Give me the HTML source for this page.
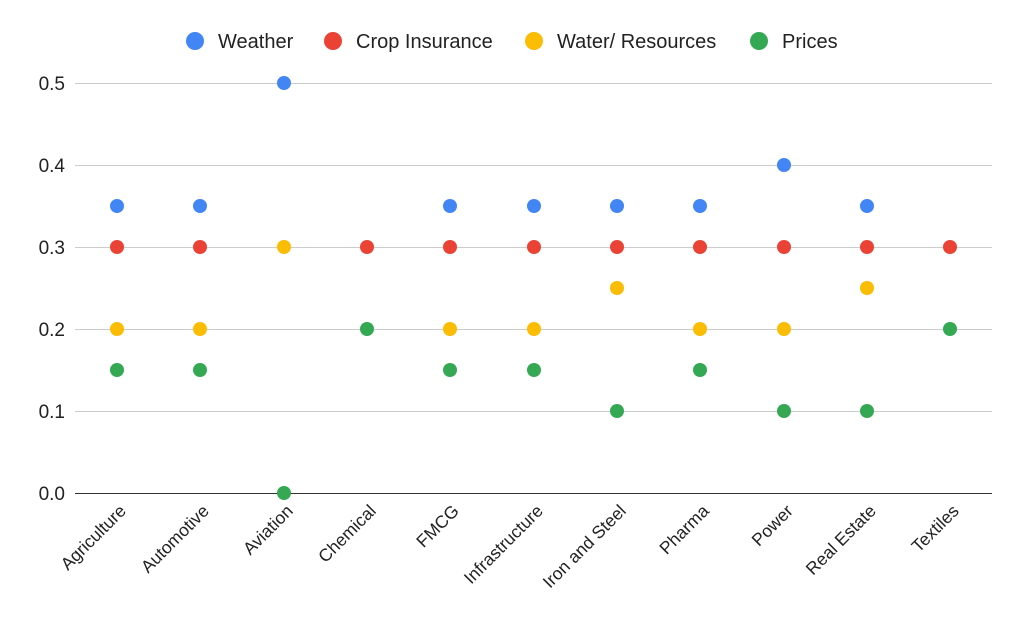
<!DOCTYPE html>
<html><head><meta charset="utf-8"><style>
html,body{margin:0;padding:0;background:#fff;}
svg{display:block;font-family:"Liberation Sans",Arial,sans-serif;}
</style></head><body>
<svg width="1024" height="633" viewBox="0 0 1024 633" xmlns="http://www.w3.org/2000/svg">
<rect width="1024" height="633" fill="#fff"/>
<g font-size="20" fill="#222">
<circle cx="195" cy="41" r="9" fill="#4285F4"/><text x="218" y="48">Weather</text>
<circle cx="333" cy="41" r="9" fill="#EA4335"/><text x="356" y="48">Crop Insurance</text>
<circle cx="534" cy="41" r="9" fill="#FBBC04"/><text x="557" y="48">Water/ Resources</text>
<circle cx="759" cy="41" r="9" fill="#34A853"/><text x="782" y="48">Prices</text>
</g>
<g stroke="#ccc" stroke-width="1">
<line x1="75" x2="992" y1="83.5" y2="83.5"/>
<line x1="75" x2="992" y1="165.5" y2="165.5"/>
<line x1="75" x2="992" y1="247.5" y2="247.5"/>
<line x1="75" x2="992" y1="329.5" y2="329.5"/>
<line x1="75" x2="992" y1="411.5" y2="411.5"/>
</g>
<line x1="75" x2="992" y1="493.5" y2="493.5" stroke="#333" stroke-width="1"/>
<g font-size="19" fill="#222" text-anchor="end">
<text x="65" y="90">0.5</text>
<text x="65" y="172">0.4</text>
<text x="65" y="254">0.3</text>
<text x="65" y="336">0.2</text>
<text x="65" y="418">0.1</text>
<text x="65" y="500">0.0</text>
</g>
<g font-size="17.5" fill="#222" text-anchor="end">
<text transform="translate(127,512) rotate(-45)">Agriculture</text>
<text transform="translate(210,512) rotate(-45)">Automotive</text>
<text transform="translate(294,512) rotate(-45)">Aviation</text>
<text transform="translate(377,512) rotate(-45)">Chemical</text>
<text transform="translate(460,512) rotate(-45)">FMCG</text>
<text transform="translate(544,512) rotate(-45)">Infrastructure</text>
<text transform="translate(627,512) rotate(-45)">Iron and Steel</text>
<text transform="translate(710,512) rotate(-45)">Pharma</text>
<text transform="translate(794,512) rotate(-45)">Power</text>
<text transform="translate(877,512) rotate(-45)">Real Estate</text>
<text transform="translate(960,512) rotate(-45)">Textiles</text>
</g>
<g fill="#4285F4">
<circle cx="117" cy="206" r="7"/><circle cx="200" cy="206" r="7"/><circle cx="284" cy="83" r="7"/>
<circle cx="450" cy="206" r="7"/><circle cx="534" cy="206" r="7"/><circle cx="617" cy="206" r="7"/>
<circle cx="700" cy="206" r="7"/><circle cx="784" cy="165" r="7"/><circle cx="867" cy="206" r="7"/>
</g>
<g fill="#EA4335">
<circle cx="117" cy="247" r="7"/><circle cx="200" cy="247" r="7"/><circle cx="367" cy="247" r="7"/>
<circle cx="450" cy="247" r="7"/><circle cx="534" cy="247" r="7"/><circle cx="617" cy="247" r="7"/>
<circle cx="700" cy="247" r="7"/><circle cx="784" cy="247" r="7"/><circle cx="867" cy="247" r="7"/>
<circle cx="950" cy="247" r="7"/>
</g>
<g fill="#FBBC04">
<circle cx="117" cy="329" r="7"/><circle cx="200" cy="329" r="7"/><circle cx="284" cy="247" r="7"/>
<circle cx="450" cy="329" r="7"/><circle cx="534" cy="329" r="7"/><circle cx="617" cy="288" r="7"/>
<circle cx="700" cy="329" r="7"/><circle cx="784" cy="329" r="7"/><circle cx="867" cy="288" r="7"/>
</g>
<g fill="#34A853">
<circle cx="117" cy="370" r="7"/><circle cx="200" cy="370" r="7"/><circle cx="284" cy="493" r="7"/>
<circle cx="367" cy="329" r="7"/><circle cx="450" cy="370" r="7"/><circle cx="534" cy="370" r="7"/>
<circle cx="617" cy="411" r="7"/><circle cx="700" cy="370" r="7"/><circle cx="784" cy="411" r="7"/>
<circle cx="867" cy="411" r="7"/><circle cx="950" cy="329" r="7"/>
</g>
</svg>
</body></html>
